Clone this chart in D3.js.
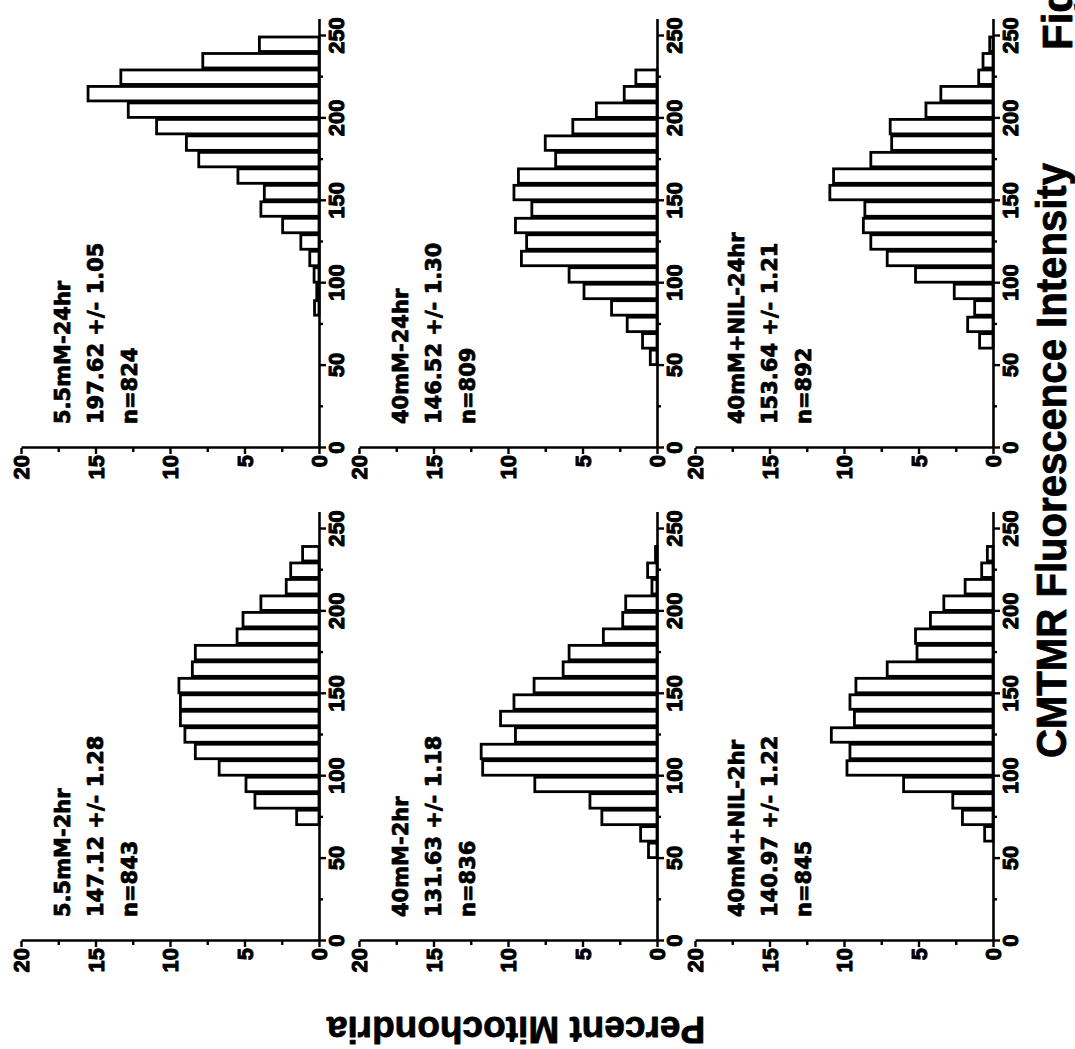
<!DOCTYPE html>
<html>
<head>
<meta charset="utf-8">
<script src="https://cdn.jsdelivr.net/npm/d3@7"></script>
<style>
  body { margin: 0; background: #fff; }
  svg { display: block; }
</style>
</head>
<body>
<div id="chart"></div>
<script>
// histogram bins (lower edge, 10 units wide)
const bins = [50, 60, 70, 80, 90, 100, 110, 120, 130, 140, 150, 160, 170, 180, 190, 200, 210, 220, 230, 240];

// percent of mitochondria per bin, one list per panel
const mM55_2hr    = [0, 0, 1.5, 4.3, 4.9, 6.7, 8.3, 9.0, 9.3, 9.3, 9.4, 8.5, 8.3, 5.5, 5.1, 3.9, 2.2, 1.9, 1.1, 0];
const mM55_24hr   = [0, 0, 0, 0.3, 0.15, 0.33, 0.62, 1.22, 2.44, 3.9, 3.67, 5.44, 8.07, 8.9, 10.9, 12.8, 15.5, 13.3, 7.8, 4.0];
const mM40_2hr    = [0.57, 1.1, 3.7, 4.5, 8.2, 11.7, 11.8, 9.5, 10.5, 9.6, 8.25, 6.3, 5.9, 3.6, 2.3, 2.1, 0.34, 0.63, 0.1, 0];
const mM40_24hr   = [0.45, 0.97, 2.0, 3.05, 4.9, 5.9, 9.1, 8.75, 9.5, 8.4, 9.6, 9.3, 6.8, 7.5, 5.65, 4.07, 2.2, 1.42, 0, 0];
const nil40_2hr   = [0, 0.56, 2.05, 2.7, 6.0, 9.8, 9.6, 10.85, 9.3, 9.6, 9.2, 7.1, 5.1, 5.2, 4.2, 3.3, 1.87, 0.76, 0.38, 0];
const nil40_24hr  = [0, 0.9, 1.7, 1.23, 2.6, 5.2, 7.1, 8.2, 8.7, 8.6, 10.95, 10.7, 8.2, 6.8, 6.9, 4.5, 3.5, 0.96, 0.67, 0.22];

const titles = [["5.5mM-2hr", "5.5mM-24hr"], ["40mM-2hr", "40mM-24hr"], ["40mM+NIL-2hr", "40mM+NIL-24hr"]];
const stats  = [["147.12 +/- 1.28", "197.62 +/- 1.05"], ["131.63 +/- 1.18", "146.52 +/- 1.30"], ["140.97 +/- 1.22", "153.64 +/- 1.21"]];
const counts = [["n=843", "n=824"], ["n=836", "n=809"], ["n=845", "n=892"]];
const series = [[mM55_2hr, mM55_24hr], [mM40_2hr, mM40_24hr], [nil40_2hr, nil40_24hr]];

const xTicks = [0, 50, 100, 150, 200, 250];
const xMinor = [25, 75, 125, 175, 225];
const yTicks = [0, 5, 10, 15, 20];
const yMinor = [2.5, 7.5, 12.5, 17.5];

const width = 1075, height = 1049;

// the figure is laid out upright in a 1049 x 1075 frame, then turned 90deg ccw (patent scan)
const colX = [108, 601];
const rowY = [21, 359, 695];
const plotW = 412 * 260 / 250;
const plotH = 298;

const svg = d3.select("#chart")
    .append("svg")
    .attr("width", width)
    .attr("height", height);

svg.append("rect").attr("width", width).attr("height", height).attr("fill", "#fff");

const fig = svg.append("g")
    .attr("transform", `translate(0,${height}) rotate(-90)`);

const x = d3.scaleLinear().domain([0, 260]).range([0, plotW]);
const y = d3.scaleLinear().domain([0, 20]).range([plotH, 0]);

const tickFont = "'Liberation Sans', Arial, sans-serif";
const noteFont = "'DejaVu Sans', sans-serif";

// scanned print is heavy, so text gets a thin outline too
function heavy(sel, w) {
    sel.attr("stroke", "#000").attr("stroke-width", w).attr("stroke-linejoin", "round");
}

function styleAxis(sel) {
    sel.attr("font-family", tickFont).attr("font-size", 22).attr("font-weight", "bold");
    sel.select(".domain").attr("stroke", "#000").attr("stroke-width", 2.6);
    sel.selectAll(".tick line").attr("stroke", "#000").attr("stroke-width", 2.4);
    sel.selectAll(".tick text").attr("fill", "#000").call(heavy, 1);
}

for (let r = 0; r < 3; r++) {
    for (let c = 0; c < 2; c++) {
        const g = fig.append("g").attr("transform", `translate(${colX[c]},${rowY[r]})`);
        const data = bins.map((b, i) => ({ b: b, v: series[r][c][i] })).filter(d => d.v > 0);

        // bars
        g.append("g")
            .selectAll("rect")
            .data(data)
            .enter().append("rect")
            .attr("x", d => x(d.b) + 1)
            .attr("width", d => x(d.b + 10) - x(d.b) - 2)
            .attr("y", d => y(d.v))
            .attr("height", d => plotH - y(d.v))
            .attr("fill", "#fff")
            .attr("stroke", "#000")
            .attr("stroke-width", 2.8);

        // minor ticks
        g.append("g")
            .attr("transform", `translate(0,${plotH})`)
            .call(d3.axisBottom(x).tickValues(xMinor).tickSize(4).tickSizeOuter(0).tickFormat(""))
            .call(s => { s.select(".domain").remove(); s.selectAll("line").attr("stroke-width", 2.4); });
        g.append("g")
            .call(d3.axisLeft(y).tickValues(yMinor).tickSize(4).tickSizeOuter(0).tickFormat(""))
            .call(s => { s.select(".domain").remove(); s.selectAll("line").attr("stroke-width", 2.4); });

        // main axes
        g.append("g")
            .attr("transform", `translate(0,${plotH})`)
            .call(d3.axisBottom(x).tickValues(xTicks).tickSize(7).tickSizeOuter(0))
            .call(styleAxis)
            .call(s => s.selectAll(".tick text").attr("y", 25).attr("dy", 0));

        g.append("g")
            .call(d3.axisLeft(y).tickValues(yTicks).tickSize(6).tickSizeOuter(0))
            .call(styleAxis)
            .call(s => s.selectAll(".tick text").attr("x", -7).attr("dy", "0.36em"));

        // condition label
        const note = g.append("text")
            .attr("font-family", noteFont)
            .attr("font-size", 21)
            .attr("font-weight", "bold")
            .attr("fill", "#000")
            .call(heavy, 0.8);
        [titles[r][c], stats[r][c], counts[r][c]].forEach((t, i) => {
            note.append("tspan").attr("x", 24).attr("y", [49, 82, 116][i]).text(t);
        });
    }
}

// axis titles
fig.append("text")
    .attr("transform", "translate(32,516) rotate(-90)")
    .attr("text-anchor", "middle")
    .attr("font-family", tickFont)
    .attr("font-size", 37)
    .attr("font-weight", "bold")
    .call(heavy, 0.8)
    .text("Percent Mitochondria");

fig.append("text")
    .attr("x", 291)
    .attr("y", 1066)
    .attr("font-family", tickFont)
    .attr("font-size", 42)
    .attr("font-weight", "bold")
    .attr("textLength", 595)
    .attr("lengthAdjust", "spacingAndGlyphs")
    .call(heavy, 0.8)
    .text("CMTMR Fluorescence Intensity");

fig.append("text")
    .attr("x", 999)
    .attr("y", 1072)
    .attr("font-family", tickFont)
    .attr("font-size", 42)
    .attr("font-weight", "bold")
    .call(heavy, 0.8)
    .text("Fig");
</script>
</body>
</html>
